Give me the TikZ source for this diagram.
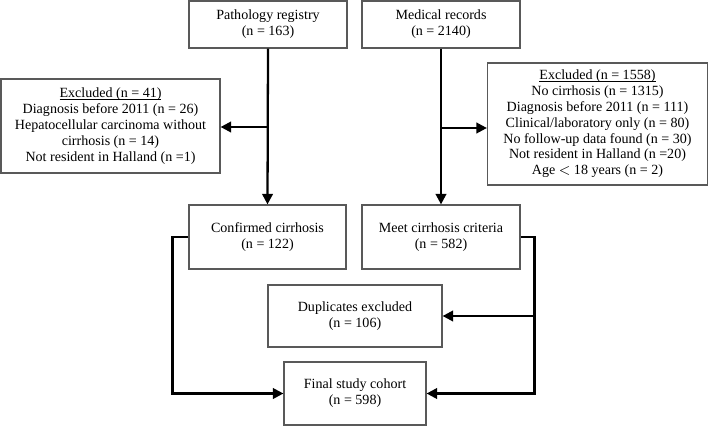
\documentclass[tikz,border=0pt]{standalone}
\usepackage{fontspec}
\setmainfont{Liberation Serif}
\usetikzlibrary{arrows.meta}
\newcommand\exhead[1]{\setbox0\hbox{#1}\rlap{\rule[-1.1pt]{\wd0}{0.4pt}}\box0}

\begin{document}
\begin{tikzpicture}[x=0.02cm, y=-0.02cm,
  box/.style={draw=black!65, line width=0.7pt, align=center, inner sep=0pt,
    font=\fontsize{8}{9}\selectfont},
  arr/.style={line width=1.3pt, -{Triangle[length=6pt,width=6pt]}}]
\useasboundingbox (0,0) rectangle (709,426);
% sources
\node[box, minimum width=3.16cm, minimum height=0.94cm] (path) at (268,24.5) {Pathology registry\\(n = 163)};
\node[box, minimum width=3.16cm, minimum height=0.94cm] (med) at (441,24.5) {Medical records\\(n = 2140)};
% exclusions
\node[box, minimum width=4.38cm, minimum height=1.88cm] (exl) at (110.5,126) {\exhead{Excluded (n = 41)}\\Diagnosis before 2011 (n = 26)\\Hepatocellular carcinoma without\\cirrhosis (n = 14)\\Not resident in Halland (n =1)};
\node[box, minimum width=4.40cm, minimum height=2.44cm] (exr) at (597.5,124) {\exhead{Excluded (n = 1558)}\\No cirrhosis (n = 1315)\\Diagnosis before 2011 (n = 111)\\Clinical/laboratory only (n = 80)\\No follow-up data found (n = 30)\\Not resident in Halland (n =20)\\Age $<$ 18 years (n = 2)};
% cirrhosis
\node[box, minimum width=3.14cm, minimum height=1.28cm] (conf) at (267.5,237) {Confirmed cirrhosis\\(n = 122)};
\node[box, minimum width=3.16cm, minimum height=1.28cm] (meet) at (441,237) {Meet cirrhosis criteria\\(n = 582)};
\node[box, minimum width=3.48cm, minimum height=1.24cm] (dup) at (355,316) {Duplicates excluded\\(n = 106)};
\node[box, minimum width=2.84cm, minimum height=1.26cm] (final) at (355,393.5) {Final study cohort\\(n = 598)};

\coordinate (jl) at (path.south |- 0,127);
\coordinate (jr) at (med.south |- 0,128);
\draw[arr] (path.south) -- (conf.north);
\draw[arr] (jl) -- (jl -| exl.east);
\draw[arr] (med.south) -- (meet.north);
\draw[arr] (jr) -- (jr -| exr.west);
\draw[arr] (conf.west) -- ++(-16,0) |- (final.west);
\draw[arr] (meet.east) -- ++(14,0) |- (final.east);
\draw[arr] (meet.east) ++(14,0) |- (dup.east);
\end{tikzpicture}
\end{document}
